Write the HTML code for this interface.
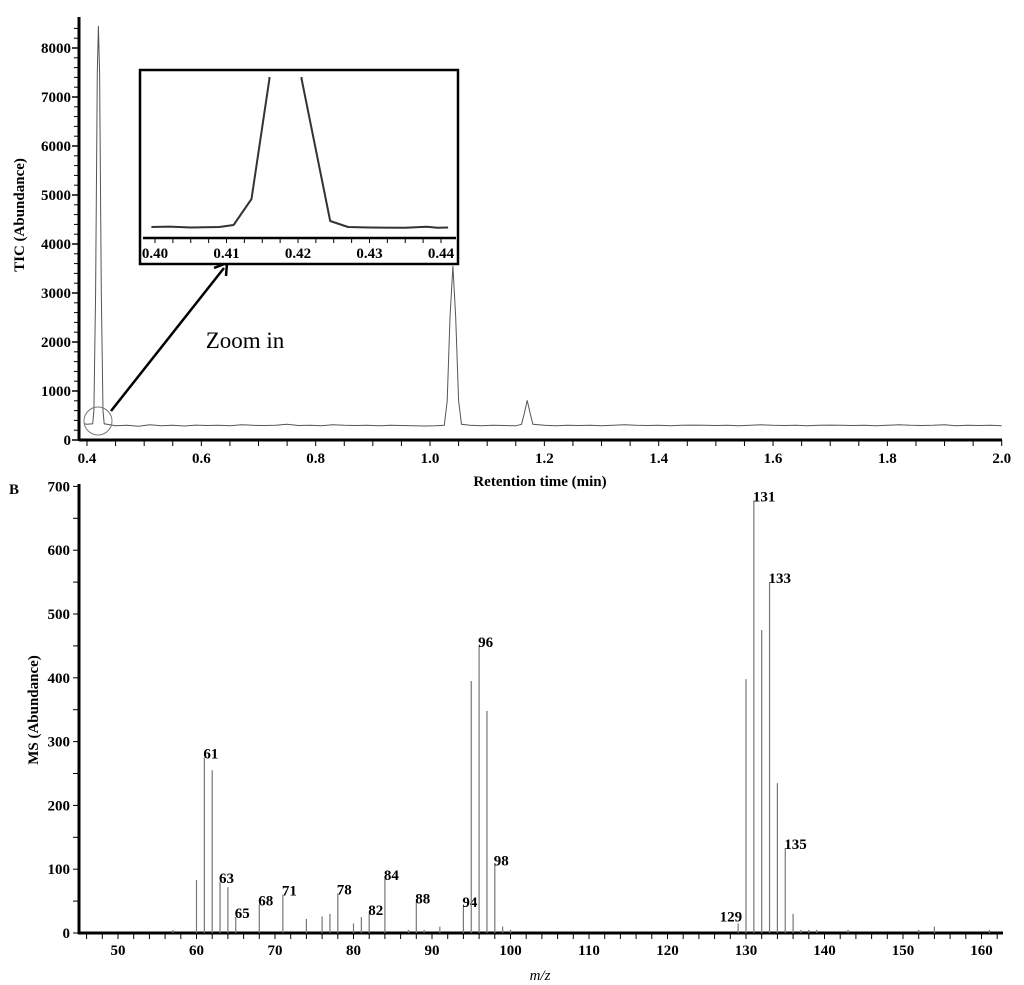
<!DOCTYPE html>
<html><head><meta charset="utf-8"><style>
body{margin:0;background:#fff}
svg{display:block;font-family:"Liberation Serif",serif}
.t{font-weight:bold;font-size:15px}
.n{font-size:23px}
</style></head><body>
<svg id="c" width="1024" height="985" viewBox="0 0 1024 985" xmlns="http://www.w3.org/2000/svg">
<defs><clipPath id="insetClip"><rect x="141" y="77" width="316" height="160"/></clipPath></defs>
</svg>
<script>
// ---- Panel A data (TIC chromatogram) ----
const ticTimes = [0.395,0.40,0.41,0.412,0.415,0.418,0.42,0.422,0.425,0.428,0.43,0.45,0.47,0.49,0.51,0.53,0.55,0.57,0.59,0.61,0.63,0.65,0.67,0.69,0.71,0.73,0.75,0.77,0.79,0.81,0.83,0.85,0.87,0.89,0.91,0.93,0.95,0.97,0.99,1.01,1.025,1.03,1.035,1.04,1.045,1.05,1.055,1.07,1.09,1.11,1.13,1.15,1.16,1.165,1.17,1.175,1.18,1.2,1.22,1.24,1.26,1.28,1.3,1.32,1.34,1.36,1.38,1.4,1.42,1.44,1.46,1.48,1.5,1.52,1.54,1.56,1.58,1.6,1.62,1.64,1.66,1.68,1.7,1.72,1.74,1.76,1.78,1.8,1.82,1.84,1.86,1.88,1.9,1.92,1.94,1.96,1.98,2.0];
const ticValues = [330,320,330,600,3000,7500,8450,7500,3000,600,330,290,300,280,310,290,300,285,305,295,300,290,310,300,295,300,320,295,300,290,310,300,295,300,290,300,295,290,285,290,300,800,2500,3550,2500,800,320,300,290,300,295,290,320,550,810,550,320,300,290,300,295,300,290,300,310,300,295,300,290,300,305,300,295,300,290,300,310,300,295,300,290,300,305,300,295,300,290,300,310,300,295,300,310,290,300,295,300,290];
const ticYTicks = [0,1000,2000,3000,4000,5000,6000,7000,8000];
const ticXTicks = [0.4,0.6,0.8,1.0,1.2,1.4,1.6,1.8,2.0];
// inset
const insetTimes = [0.3995,0.402,0.405,0.409,0.411,0.4135,0.416,0.4165,0.4203,0.4205,0.4245,0.427,0.43,0.435,0.438,0.4395,0.441];
const insetValues = [2,2.4,1.5,2,4,30,150,400,400,150,8,2,1.5,1.3,2.2,1.3,1.5];
const insetTicks = ["0.40","0.41","0.42","0.43","0.44"];
// ---- Panel B data (mass spectrum) ----
const mzValues = [57,60,61,62,63,64,65,68,71,74,76,77,78,80,81,82,84,87,88,89,91,94,95,96,97,98,99,100,129,130,131,132,133,134,135,136,137,138,139,143,152,154,161];
const msAbund  = [5,83,275,255,80,72,25,45,60,22,26,30,62,15,25,30,85,5,48,5,10,42,395,450,348,107,10,5,15,398,678,475,550,235,133,30,5,5,5,5,5,10,5];
const msLabels = [61,63,65,68,71,78,82,84,88,94,96,98,129,131,133,135];
const msYTicks = [0,100,200,300,400,500,600,700];
const msXTicks = [50,60,70,80,90,100,110,120,130,140,150,160];

const svg=document.getElementById('c');const NS='http://www.w3.org/2000/svg';
function mk(tag,at,parent){const e=document.createElementNS(NS,tag);for(const k in at)e.setAttribute(k,at[k]);(parent||svg).appendChild(e);return e;}
function tx(s,x,y,cls,anchor,parent){const e=mk('text',{x:x,y:y,class:cls||'t','text-anchor':anchor||'middle'},parent);e.textContent=s;return e;}

// Panel A scales
const ax=t=>87+(t-0.4)*571.7, ay=v=>440-v*0.049;
let g=mk('g',{});
mk('line',{x1:79,y1:440,x2:1002,y2:440,stroke:'#000','stroke-width':3},g);
mk('line',{x1:79,y1:17,x2:79,y2:441,stroke:'#000','stroke-width':3},g);
for(let v=0;v<=8400;v+=200){mk('line',{x1:74,y1:ay(v),x2:79,y2:ay(v),stroke:'#000','stroke-width':1},g);}
ticYTicks.forEach(v=>{mk('line',{x1:72,y1:ay(v),x2:79,y2:ay(v),stroke:'#000','stroke-width':1.5},g);tx(String(v),71,ay(v)+5,'t','end',g);});
for(let t=0.4;t<=2.001;t+=0.05){mk('line',{x1:ax(t),y1:440,x2:ax(t),y2:446,stroke:'#000'},g);}
ticXTicks.forEach(t=>tx(t.toFixed(1),ax(t),463,'t','middle',g));
let e=tx('TIC (Abundance)',0,0,'t','middle');e.setAttribute('transform','translate(24,215) rotate(-90)');
e=tx('Retention time (min)',540,486);
let pts=ticTimes.map((t,i)=>ax(t).toFixed(1)+','+ay(ticValues[i]).toFixed(1)).join(' ');
e=mk('polyline',{points:pts,fill:'none',stroke:'#555','stroke-width':1});
e=mk('circle',{cx:98,cy:421,r:14,fill:'none',stroke:'#777','stroke-width':1});
e=mk('line',{x1:111,y1:411,x2:224,y2:268,stroke:'#000','stroke-width':2.5});
mk('polyline',{points:'214,268 227,263 226,276',fill:'none',stroke:'#000','stroke-width':2.5});
e=tx('Zoom in',245,348,'n','middle');
// inset
const ig=mk('g',{});
mk('rect',{x:140,y:70,width:318,height:194,fill:'#fff',stroke:'#000','stroke-width':2.5},ig);
const ix=t=>155+(t-0.40)*7150, iy=v=>229-v*1.0;
mk('line',{x1:143,y1:238,x2:456,y2:238,stroke:'#000','stroke-width':2.5},ig);
for(let k=0;k<=18;k++){const t=0.40+k*0.0025;if(ix(t)<=456)mk('line',{x1:ix(t),y1:238,x2:ix(t),y2:243,stroke:'#000'},ig);}
insetTicks.forEach(s=>tx(s,ix(parseFloat(s)),258,'t','middle',ig));
const cp=mk('polyline',{points:insetTimes.map((t,i)=>ix(t).toFixed(1)+','+iy(insetValues[i]).toFixed(1)).join(' '),fill:'none',stroke:'#333','stroke-width':2,'clip-path':'url(#insetClip)'},ig);
cp.setAttribute('stroke-linejoin','round');
// Panel B
const bx=m=>118+(m-50)*7.85, by=v=>933-v*0.638;
const bg=mk('g',{});
e=tx('B',14,494);
mk('line',{x1:79,y1:484,x2:79,y2:934,stroke:'#000','stroke-width':3},bg);
mk('line',{x1:78,y1:933,x2:1003,y2:933,stroke:'#000','stroke-width':3},bg);
for(let v=0;v<=700;v+=50)mk('line',{x1:73,y1:by(v),x2:79,y2:by(v),stroke:'#000'},bg);
msYTicks.forEach(v=>tx(String(v),70,by(v)+5,'t','end',bg));
for(let m=46;m<=162;m+=2)mk('line',{x1:bx(m),y1:933,x2:bx(m),y2:939,stroke:'#000'},bg);
msXTicks.forEach(m=>tx(String(m),bx(m),955,'t','middle',bg));
e=tx('MS (Abundance)',0,0);e.setAttribute('transform','translate(38,710) rotate(-90)');
e=mk('text',{x:540,y:980,'text-anchor':'middle','font-style':'italic','font-size':'15'});e.textContent='m/z';
mzValues.forEach((m,i)=>{const l=mk('line',{x1:bx(m),y1:933,x2:bx(m),y2:by(msAbund[i]),stroke:'#777','stroke-width':1.2});


if(msLabels.includes(m)){const left=(m===129);const t=tx(String(m),left?bx(m)+4:bx(m)-1,by(msAbund[i])+(left?-2:1),'t',left?'end':'start');

}});
</script>
</body></html>
